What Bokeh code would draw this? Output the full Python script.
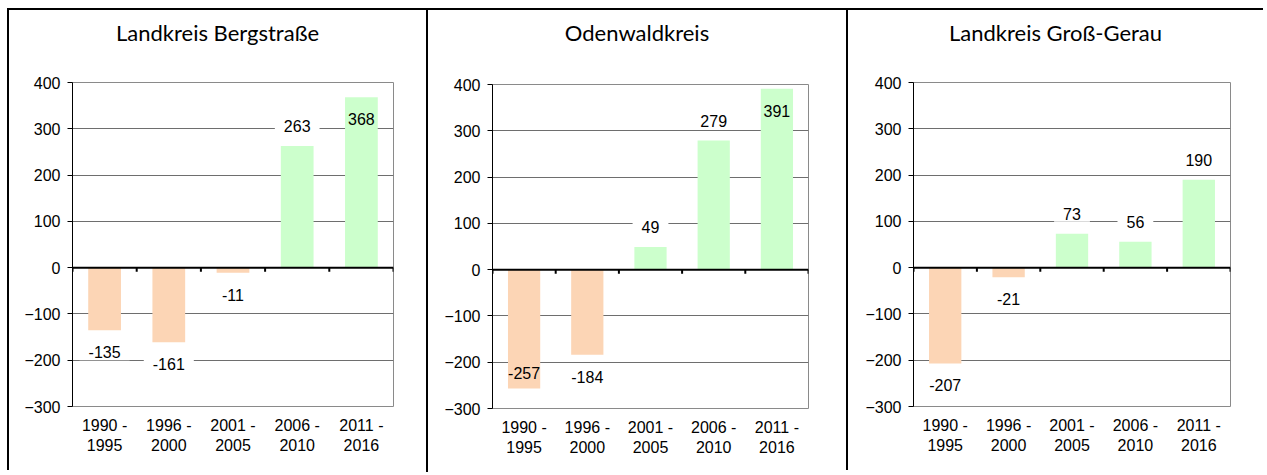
from bokeh.plotting import figure
from bokeh.models import Range1d, FixedTicker, Span, ColumnDataSource, Div
from bokeh.layouts import row, column
from bokeh.embed import file_html
from bokeh.resources import INLINE
from bokeh.core.properties import value

periods = ["1990 -\n1995", "1996 -\n2000", "2001 -\n2005", "2006 -\n2010", "2011 -\n2016"]
titles = ["Landkreis Bergstraße", "Odenwaldkreis", "Landkreis Groß-Gerau"]
bergstrasse = [-135, -161, -11, 263, 368]
odenwald = [-257, -184, 49, 279, 391]
gross_gerau = [-207, -21, 73, 56, 190]
y_ticks = [-300, -200, -100, 0, 100, 200, 300, 400]

NEG = "#FCD5B5"
POS = "#CCFFCC"
TICK_FONT = value("Liberation Sans")
TITLE_H = 46
BOTTOM = 64


def panel(title, vals, left, fw, top, fh, right):
    p = figure(frame_width=fw, frame_height=fh,
               min_border_left=left, min_border_right=right,
               min_border_top=top, min_border_bottom=BOTTOM,
               x_range=Range1d(0, len(vals)), y_range=Range1d(y_ticks[0], y_ticks[-1]),
               output_backend="svg", toolbar_location=None, margin=0)
    p.outline_line_color = "#8a8a8a"
    p.outline_line_width = 1
    p.xgrid.grid_line_color = None
    p.ygrid.ticker = FixedTicker(ticks=y_ticks)
    p.ygrid.grid_line_color = "#6e6e6e"
    p.ygrid.grid_line_width = 1

    xs = [i + 0.5 for i in range(len(vals))]
    colors = [POS if v >= 0 else NEG for v in vals]
    src = ColumnDataSource(dict(x=xs, top=vals, color=colors))
    p.vbar(x="x", top="top", bottom=0, width=0.51, fill_color="color", line_color=None, source=src)

    p.add_layout(Span(location=0, dimension="width", line_color="black", line_width=2))
    bounds = list(range(len(vals) + 1))
    p.segment(x0=bounds, y0=[0] * len(bounds), x1=bounds, y1=[-9] * len(bounds),
              line_color="black", line_width=2)

    # y axis
    p.yaxis.ticker = FixedTicker(ticks=y_ticks)
    p.yaxis.axis_line_color = "black"
    p.yaxis.major_tick_line_color = "black"
    p.yaxis.major_tick_in = 0
    p.yaxis.major_tick_out = 5
    p.yaxis.minor_tick_line_color = None
    p.yaxis.major_label_text_font = "Liberation Sans"
    p.yaxis.major_label_text_font_size = "16px"
    p.yaxis.major_label_text_color = "black"
    p.yaxis.major_label_standoff = 7

    # x axis
    p.xaxis.ticker = FixedTicker(ticks=xs)
    p.xaxis.major_label_overrides = {x: lab for x, lab in zip(xs, periods)}
    p.xaxis.axis_line_color = None
    p.xaxis.major_tick_line_color = None
    p.xaxis.minor_tick_line_color = None
    p.xaxis.major_label_text_font = "Liberation Sans"
    p.xaxis.major_label_text_font_size = "16px"
    p.xaxis.major_label_text_color = "black"
    p.xaxis.major_label_text_line_height = 1.2
    p.xaxis.major_label_standoff = 4

    # data labels
    ppu = fh / (y_ticks[-1] - y_ticks[0])
    out = dict(x=[], y=[], t=[], off=[])
    ins = dict(x=[], y=[], t=[], off=[])
    for x, v in zip(xs, vals):
        limit = y_ticks[-1] if v >= 0 else -y_ticks[0]
        fits = abs(v) * ppu + 29 <= limit * ppu
        if fits:
            out["x"].append(x); out["y"].append(v); out["t"].append(str(v))
            out["off"].append(-20 if v >= 0 else 22)
        else:
            ins["x"].append(x); ins["y"].append(v); ins["t"].append(str(v))
            ins["off"].append(22 if v >= 0 else -16)
    p.text(x="x", y="y", text="t", y_offset="off", source=ColumnDataSource(out),
           text_align="center", text_baseline="middle",
           text_font=TICK_FONT, text_font_size="16px", text_color="black",
           background_fill_color="white", padding=[9, 2])
    p.text(x="x", y="y", text="t", y_offset="off", source=ColumnDataSource(ins),
           text_align="center", text_baseline="middle",
           text_font=TICK_FONT, text_font_size="16px", text_color="black")

    head = Div(text=title, width=left + fw + right, height=TITLE_H, margin=0,
               styles={"font-family": "Lato", "font-size": "22px", "color": "black",
                       "text-align": "center", "line-height": f"{TITLE_H}px"})
    return column(head, p, margin=0,
                  styles={"border-left": "2px solid black", "border-top": "2px solid black"})


c1 = panel(titles[0], bergstrasse, 63, 321, 26, 324, 33)
c2 = panel(titles[1], odenwald, 64, 316, 28, 324, 38)
c3 = panel(titles[2], gross_gerau, 65, 317, 26, 324, 33)
layout = row(c1, c2, c3, margin=(8, 0, 0, 7))

open("out.html", "w").write(file_html(layout, INLINE))
